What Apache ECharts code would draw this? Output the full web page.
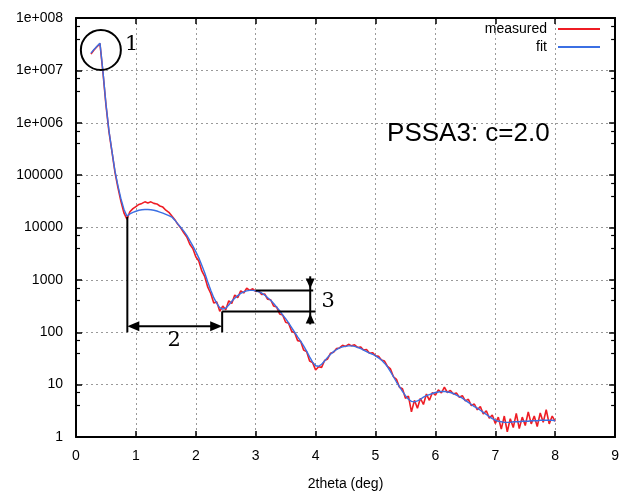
<!DOCTYPE html>
<html><head><meta charset="utf-8">
<script src="https://cdn.jsdelivr.net/npm/echarts@6/dist/echarts.min.js"></script>
<style>html,body{margin:0;padding:0;background:#fff}#c{width:622px;height:496px}</style>
</head><body><div id="c"></div>
<script>
// 2theta (deg) sample positions
const twoTheta = [
0.25,0.30,0.35,0.40,0.45,0.50,0.55,0.60,0.65,0.70,
0.75,0.80,0.85,0.90,0.95,1.00,1.05,1.10,1.15,1.20,
1.25,1.30,1.35,1.40,1.45,1.50,1.55,1.60,1.65,1.70,
1.75,1.80,1.85,1.90,1.95,2.00,2.05,2.10,2.15,2.20,
2.25,2.30,2.35,2.40,2.45,2.50,2.55,2.60,2.65,2.70,
2.75,2.80,2.85,2.90,2.95,3.00,3.05,3.10,3.15,3.20,
3.25,3.30,3.35,3.40,3.45,3.50,3.55,3.60,3.65,3.70,
3.75,3.80,3.85,3.90,3.95,4.00,4.05,4.10,4.15,4.20,
4.25,4.30,4.35,4.40,4.45,4.50,4.55,4.60,4.65,4.70,
4.75,4.80,4.85,4.90,4.95,5.00,5.05,5.10,5.15,5.20,
5.25,5.30,5.35,5.40,5.45,5.50,5.55,5.60,5.65,5.70,
5.75,5.80,5.85,5.90,5.95,6.00,6.05,6.10,6.15,6.20,
6.25,6.30,6.35,6.40,6.45,6.50,6.55,6.60,6.65,6.70,
6.75,6.80,6.85,6.90,6.95,7.00,7.05,7.10,7.15,7.20,
7.25,7.30,7.35,7.40,7.45,7.50,7.55,7.60,7.65,7.70,
7.75,7.80,7.85,7.90,7.95,8.00];

// measured intensity as log10(counts)
const logMeasured = [
7.31,7.39,7.45,7.51,6.96,6.34,5.83,5.45,5.06,4.76,
4.50,4.28,4.16,4.30,4.36,4.40,4.44,4.46,4.49,4.47,
4.49,4.46,4.45,4.41,4.39,4.33,4.29,4.22,4.15,4.06,
3.99,3.90,3.82,3.68,3.60,3.44,3.36,3.17,3.06,2.86,
2.74,2.56,2.58,2.40,2.50,2.43,2.60,2.55,2.71,2.66,
2.79,2.75,2.84,2.80,2.83,2.78,2.79,2.72,2.73,2.63,
2.62,2.50,2.48,2.35,2.33,2.19,2.17,2.02,1.99,1.84,
1.83,1.66,1.63,1.45,1.42,1.28,1.34,1.33,1.46,1.49,
1.60,1.62,1.69,1.70,1.75,1.73,1.77,1.74,1.76,1.71,
1.72,1.66,1.67,1.60,1.61,1.55,1.54,1.47,1.45,1.35,
1.30,1.15,1.10,0.95,0.92,0.74,0.78,0.48,0.70,0.55,
0.74,0.62,0.82,0.70,0.85,0.80,0.90,0.84,0.95,0.85,
0.89,0.82,0.84,0.76,0.79,0.69,0.72,0.60,0.63,0.52,
0.58,0.44,0.50,0.36,0.42,0.26,0.38,0.15,0.40,0.10,
0.35,0.18,0.45,0.16,0.38,0.22,0.48,0.25,0.40,0.20,
0.46,0.28,0.52,0.25,0.40,0.30];

// fit intensity as log10(counts)
const logFit = [
7.33,7.40,7.46,7.52,6.98,6.36,5.85,5.46,5.08,4.80,
4.55,4.35,4.22,4.26,4.29,4.31,4.33,4.34,4.345,4.345,
4.34,4.33,4.315,4.295,4.275,4.25,4.225,4.20,4.14,4.07,
4.00,3.93,3.85,3.75,3.65,3.54,3.42,3.28,3.13,2.96,
2.80,2.66,2.55,2.47,2.44,2.46,2.52,2.59,2.65,2.70,
2.74,2.77,2.79,2.80,2.80,2.79,2.77,2.75,2.71,2.66,
2.61,2.55,2.48,2.41,2.33,2.26,2.18,2.09,2.00,1.91,
1.83,1.74,1.64,1.53,1.43,1.36,1.35,1.39,1.45,1.52,
1.58,1.63,1.67,1.70,1.72,1.73,1.74,1.74,1.73,1.71,
1.69,1.66,1.63,1.60,1.58,1.55,1.51,1.47,1.41,1.34,
1.25,1.15,1.05,0.96,0.87,0.79,0.72,0.68,0.67,0.69,
0.72,0.76,0.79,0.81,0.83,0.85,0.86,0.87,0.87,0.86,
0.85,0.83,0.80,0.77,0.74,0.70,0.66,0.62,0.58,0.55,
0.51,0.47,0.43,0.39,0.35,0.32,0.30,0.29,0.28,0.28,
0.28,0.29,0.29,0.29,0.30,0.30,0.30,0.31,0.31,0.31,
0.32,0.32,0.32,0.32,0.32,0.31];

const seriesNames = ['measured', 'fit'];
const yTickLabels = ['1','10','100','1000','10000','100000','1e+006','1e+007','1e+008'];
const xTickLabels = ['0','1','2','3','4','5','6','7','8','9'];

const FONT = '"Liberation Sans", Arial, sans-serif';
const gridLine = {show: true, lineStyle: {color: '#9a9a9a', width: 1, type: [2, 3]}};
const axisLine = {show: true, onZero: false, lineStyle: {color: '#000', width: 2}};
const tick = {show: true, inside: true, length: 6, lineStyle: {color: '#000', width: 1.5}};
const minor = {show: true, splitNumber: 3, length: 4, lineStyle: {color: '#000', width: 1.2}};

const measuredData = twoTheta.map((x, i) => [x, Math.pow(10, logMeasured[i])]);
const fitData = twoTheta.map((x, i) => [x, Math.pow(10, logFit[i])]);

const chart = echarts.init(document.getElementById('c'), null, {renderer: 'canvas'});
const option = {
  animation: false,
  backgroundColor: '#fff',
  grid: {left: 76, right: 3, top: 18, bottom: 58, containLabel: false},
  legend: {
    data: seriesNames, orient: 'vertical', right: 22, top: 22, padding: 0,
    align: 'right', icon: 'rect', itemWidth: 42, itemHeight: 2, itemGap: 4,
    textStyle: {fontFamily: FONT, fontSize: 14, color: '#000', padding: [0, 6, 0, 0]}
  },
  xAxis: [{
    type: 'value', min: 0, max: 9, interval: 1, position: 'bottom',
    axisLine: axisLine, axisTick: tick,
    axisLabel: {fontFamily: FONT, fontSize: 14, color: '#000', margin: 12,
      formatter: v => xTickLabels[Math.round(v)]},
    splitLine: gridLine,
    name: '2theta (deg)', nameLocation: 'middle', nameGap: 40,
    nameTextStyle: {fontFamily: FONT, fontSize: 14, color: '#000'}
  }, {
    type: 'value', min: 0, max: 9, interval: 1, position: 'top',
    axisLine: axisLine, axisTick: tick,
    axisLabel: {show: false}, splitLine: {show: false}
  }],
  yAxis: [{
    type: 'log', logBase: 10, min: 1, max: 1e8, splitNumber: 8, position: 'left',
    axisLine: axisLine, axisTick: tick, minorTick: minor,
    axisLabel: {fontFamily: FONT, fontSize: 14, color: '#000', margin: 13,
      formatter: v => yTickLabels[Math.round(Math.log10(v))]},
    splitLine: gridLine
  }, {
    type: 'log', logBase: 10, min: 1, max: 1e8, splitNumber: 8, position: 'right',
    axisLine: axisLine, axisTick: tick, minorTick: minor,
    axisLabel: {show: false}, splitLine: {show: false}
  }],
  series: [{
    name: seriesNames[0], type: 'line', data: measuredData, showSymbol: false,
    color: '#ee1c24', lineStyle: {width: 1.6, color: '#ee1c24'}, z: 2
  }, {
    name: seriesNames[1], type: 'line', data: fitData, showSymbol: false,
    color: '#3b6fe3', lineStyle: {width: 1.4, color: '#3b6fe3'}, z: 3
  }]
};
chart.setOption(option);

// annotations placed in data coordinates, converted by the chart's own scales
const P = (x, y) => chart.convertToPixel({xAxisIndex: 0, yAxisIndex: 0}, [x, y]);
const K = '#000';
function seg(a, b) {
  return {type: 'line', z: 10, shape: {x1: a[0], y1: a[1], x2: b[0], y2: b[1]}, style: {stroke: K, lineWidth: 2}};
}
function tri(tip, dir, len, half) {
  const bx = tip[0] - dir[0] * len, by = tip[1] - dir[1] * len;
  const px = -dir[1] * half, py = dir[0] * half;
  return {type: 'polygon', z: 10, shape: {points: [[tip[0], tip[1]], [bx + px, by + py], [bx - px, by - py]]}, style: {fill: K}};
}
function txt(p, s, font) {
  return {type: 'text', z: 10, x: p[0], y: p[1], style: {text: s, font: font, fill: K,
    textAlign: 'center', textVerticalAlign: 'middle', align: 'center', verticalAlign: 'middle'}};
}
const SERIF = '21px "DejaVu Serif", "Liberation Serif", serif';
const g = [];
// circle "1"
const cc = P(0.415, 2.45e7);
g.push({type: 'circle', z: 10, shape: {cx: cc[0], cy: cc[1], r: 20}, style: {fill: 'none', stroke: K, lineWidth: 2}});
g.push(txt(P(0.93, 3.1e7), '1', SERIF));
// period marker "2"
const aL = P(0.857, 130), aR = P(2.44, 130);
g.push(seg(P(0.857, 16000), P(0.857, 100)));
g.push(seg(P(2.44, 250), P(2.44, 100)));
g.push(seg([aL[0] + 10, aL[1]], [aR[0] - 10, aR[1]]));
g.push(tri(aL, [-1, 0], 12, 5));
g.push(tri(aR, [1, 0], 12, 5));
g.push(txt(P(1.64, 68), '2', SERIF));
// amplitude marker "3"
g.push(seg(P(3.0, 630), P(3.96, 630)));
g.push(seg(P(2.44, 250), P(4.0, 250)));
const vTop = P(3.91, 1170), vUp = P(3.91, 630), vLo = P(3.91, 250), vBot = P(3.91, 141);
g.push(seg(vTop, vBot));
g.push(tri([vUp[0], vUp[1] - 2], [0, 1], 10, 4.5));
g.push(tri([vLo[0], vLo[1] + 2], [0, -1], 10, 4.5));
g.push(txt(P(4.21, 390), '3', SERIF));
// sample label
g.push(txt(P(6.55, 6.2e5), 'PSSA3: c=2.0', '26px ' + FONT));
chart.setOption({graphic: {elements: g}});
</script></body></html>
